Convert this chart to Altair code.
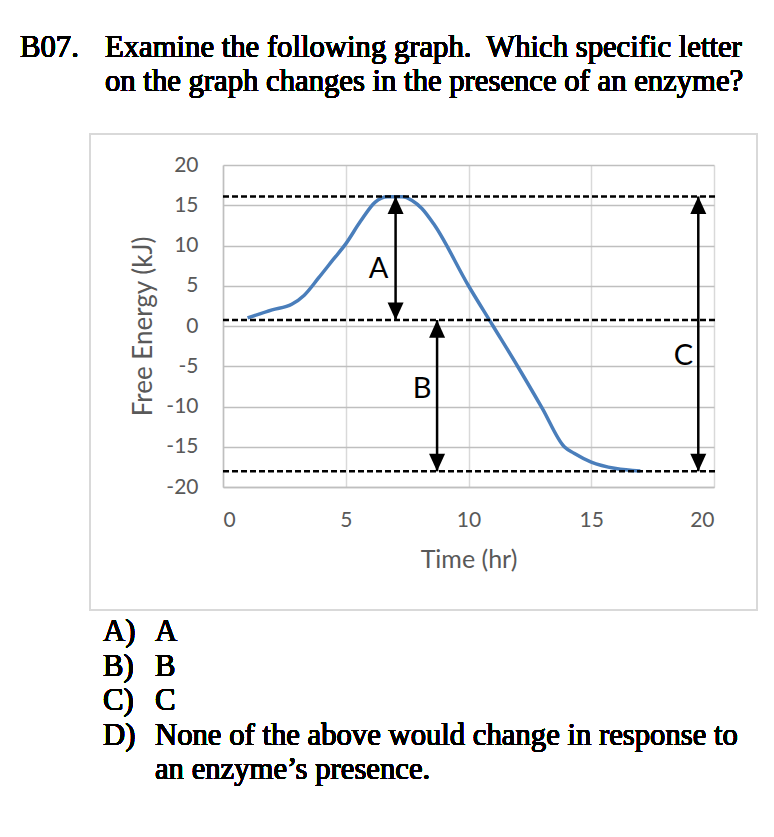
import altair as alt
import pandas as pd

# ---- data ----
time_hr = [1.0, 2.0, 2.8, 3.3, 3.9, 4.5, 5.0, 5.6, 6.2, 6.7, 7.3, 7.7, 8.1, 8.6,
           10.0, 11.0, 12.0, 13.0, 13.9, 14.3, 15.0, 16.0, 17.0]
free_energy = [1.0, 2.0, 2.7, 3.8, 6.0, 8.3, 10.2, 13.0, 15.4, 16.05, 16.05, 15.6, 14.6, 12.6,
               5.0, 0.0, -5.0, -10.2, -15.0, -15.8, -16.9, -17.7, -18.0]

level_values = [16.1, 0.74, -18.05]          # dashed reference levels
level_end = [20.1, 20.1, 20.1]

arrow_names = ["A", "B", "C"]
arrow_x = [7.03, 8.72, 19.36]
arrow_top = [16.1, 0.74, 16.1]
arrow_bottom = [0.74, -18.05, -18.05]
label_x = [6.34, 8.11, 18.75]
label_y = [7.05, -7.8, -3.7]

x_ticks = [0, 5, 10, 15, 20]
y_ticks = [-20, -15, -10, -5, 0, 5, 10, 15, 20]

question_num = "B07."
question_lines = ["Examine the following graph.\u00a0 Which specific letter",
                  "on the graph changes in the presence of an enzyme?"]
choice_keys = ["A)", "B)", "C)", "D)"]
choice_lines = ["A", "B", "C", "None of the above would change in response to",
                "an enzyme\u2019s presence."]

# ---- layout ----
W, H = 491, 322
LEFT, TOP = 223, 165
TOTAL_W, TOTAL_H = 774, 837

curve = pd.DataFrame({"t": time_hr, "g": free_energy})
levels = pd.DataFrame({"y": level_values, "x0": [0] * 3, "x1": level_end})
arrows = pd.DataFrame({"name": arrow_names, "x": arrow_x, "top": arrow_top,
                       "bottom": arrow_bottom, "lx": label_x, "ly": label_y})

xs = alt.Scale(domain=[0, 20], nice=False)
ys = alt.Scale(domain=[-20, 20], nice=False)

grey = "#595959"
axis_font = "Lato"

base = alt.Chart(curve)

line = base.mark_line(color="#4a7ebb", strokeWidth=3.5, interpolate="monotone").encode(
    x=alt.X("t:Q", scale=xs,
            axis=alt.Axis(values=x_ticks, title="Time (hr)", ticks=False,
                          labelPadding=22, labelFontSize=21, labelFont=axis_font,
                          labelColor=grey, titleFont=axis_font, titleFontSize=25,
                          titleColor=grey, titleFontWeight="normal",
                          titleBaseline="middle", titleX=W / 2, titleY=72,
                          labelExpr="datum.value + ''",
                          gridColor="#d9d9d9", gridWidth=1.5,
                          domainColor="#bfbfbf", domainWidth=1.5)),
    y=alt.Y("g:Q", scale=ys,
            axis=alt.Axis(values=y_ticks, title="Free Energy (kJ)", ticks=False,
                          labelPadding=25, labelFontSize=21, labelFont=axis_font,
                          labelColor=grey, titleFont=axis_font, titleFontSize=26,
                          titleColor=grey, titleFontWeight="normal",
                          titleAngle=-90, titleBaseline="middle",
                          titleX=-80, titleY=H / 2,
                          labelExpr="datum.value + ''",
                          gridColor="#bfbfbf", gridWidth=1.5,
                          domainColor="#bfbfbf", domainWidth=1.5)),
)

dashed = alt.Chart(levels).mark_rule(color="black", strokeWidth=2.5, strokeDash=[6, 3]).encode(
    x=alt.X("x0:Q", scale=xs), x2="x1:Q", y=alt.Y("y:Q", scale=ys)
)

shafts = alt.Chart(arrows).mark_rule(color="black", strokeWidth=2.5).encode(
    x=alt.X("x:Q", scale=xs), y=alt.Y("top:Q", scale=ys), y2="bottom:Q"
)

head_up = alt.Chart(arrows).mark_point(
    shape="M0,0L-1,2.2L1,2.2Z", filled=True, color="black", opacity=1, size=256, strokeWidth=0
).encode(x=alt.X("x:Q", scale=xs), y=alt.Y("top:Q", scale=ys))

head_down = alt.Chart(arrows).mark_point(
    shape="M0,0L-1,-2.2L1,-2.2Z", filled=True, color="black", opacity=1, size=256, strokeWidth=0
).encode(x=alt.X("x:Q", scale=xs), y=alt.Y("bottom:Q", scale=ys))

labels = alt.Chart(arrows).mark_text(
    font=axis_font, fontSize=29, color="black", baseline="middle", align="center"
).encode(x=alt.X("lx:Q", scale=xs), y=alt.Y("ly:Q", scale=ys), text="name:N")

box = alt.Chart(curve).mark_rect(fill=None, stroke="#d9d9d9", strokeWidth=2).encode(
    x=alt.value(90 - LEFT), x2=alt.value(757 - LEFT),
    y=alt.value(134 - TOP), y2=alt.value(610 - TOP)
)

serif = "Liberation Serif"
FS = 30.7
q_num = alt.Chart(curve).mark_text(
    text=question_num, font=serif, fontSize=FS, fontWeight="normal", align="left",
    baseline="alphabetic", color="black"
).encode(x=alt.value(20 - LEFT), y=alt.value(57 - TOP))

q_text = alt.Chart(curve).mark_text(
    text=question_lines, font=serif, fontSize=FS, fontWeight="normal", align="left",
    baseline="alphabetic", lineHeight=34, color="black"
).encode(x=alt.value(105 - LEFT), y=alt.value(57 - TOP))

c_keys = alt.Chart(curve).mark_text(
    text=choice_keys, font=serif, fontSize=FS, fontWeight="normal", align="left",
    baseline="alphabetic", lineHeight=34.5, color="black"
).encode(x=alt.value(103 - LEFT), y=alt.value(641 - TOP))

c_text = alt.Chart(curve).mark_text(
    text=choice_lines, font=serif, fontSize=FS, fontWeight="normal", align="left",
    baseline="alphabetic", lineHeight=34.5, color="black"
).encode(x=alt.value(155 - LEFT), y=alt.value(641 - TOP))

chart = alt.layer(
    line, dashed, shafts, head_up, head_down, labels, box, q_num, q_text, c_keys, c_text
).properties(
    width=W, height=H,
    autosize=alt.AutoSizeParams(type="none"),
    padding={"left": LEFT, "top": TOP, "right": TOTAL_W - LEFT - W, "bottom": TOTAL_H - TOP - H},
    background="white",
).configure_view(stroke=None)

chart.save("out.html", embed_options={"renderer": "svg", "actions": False})
